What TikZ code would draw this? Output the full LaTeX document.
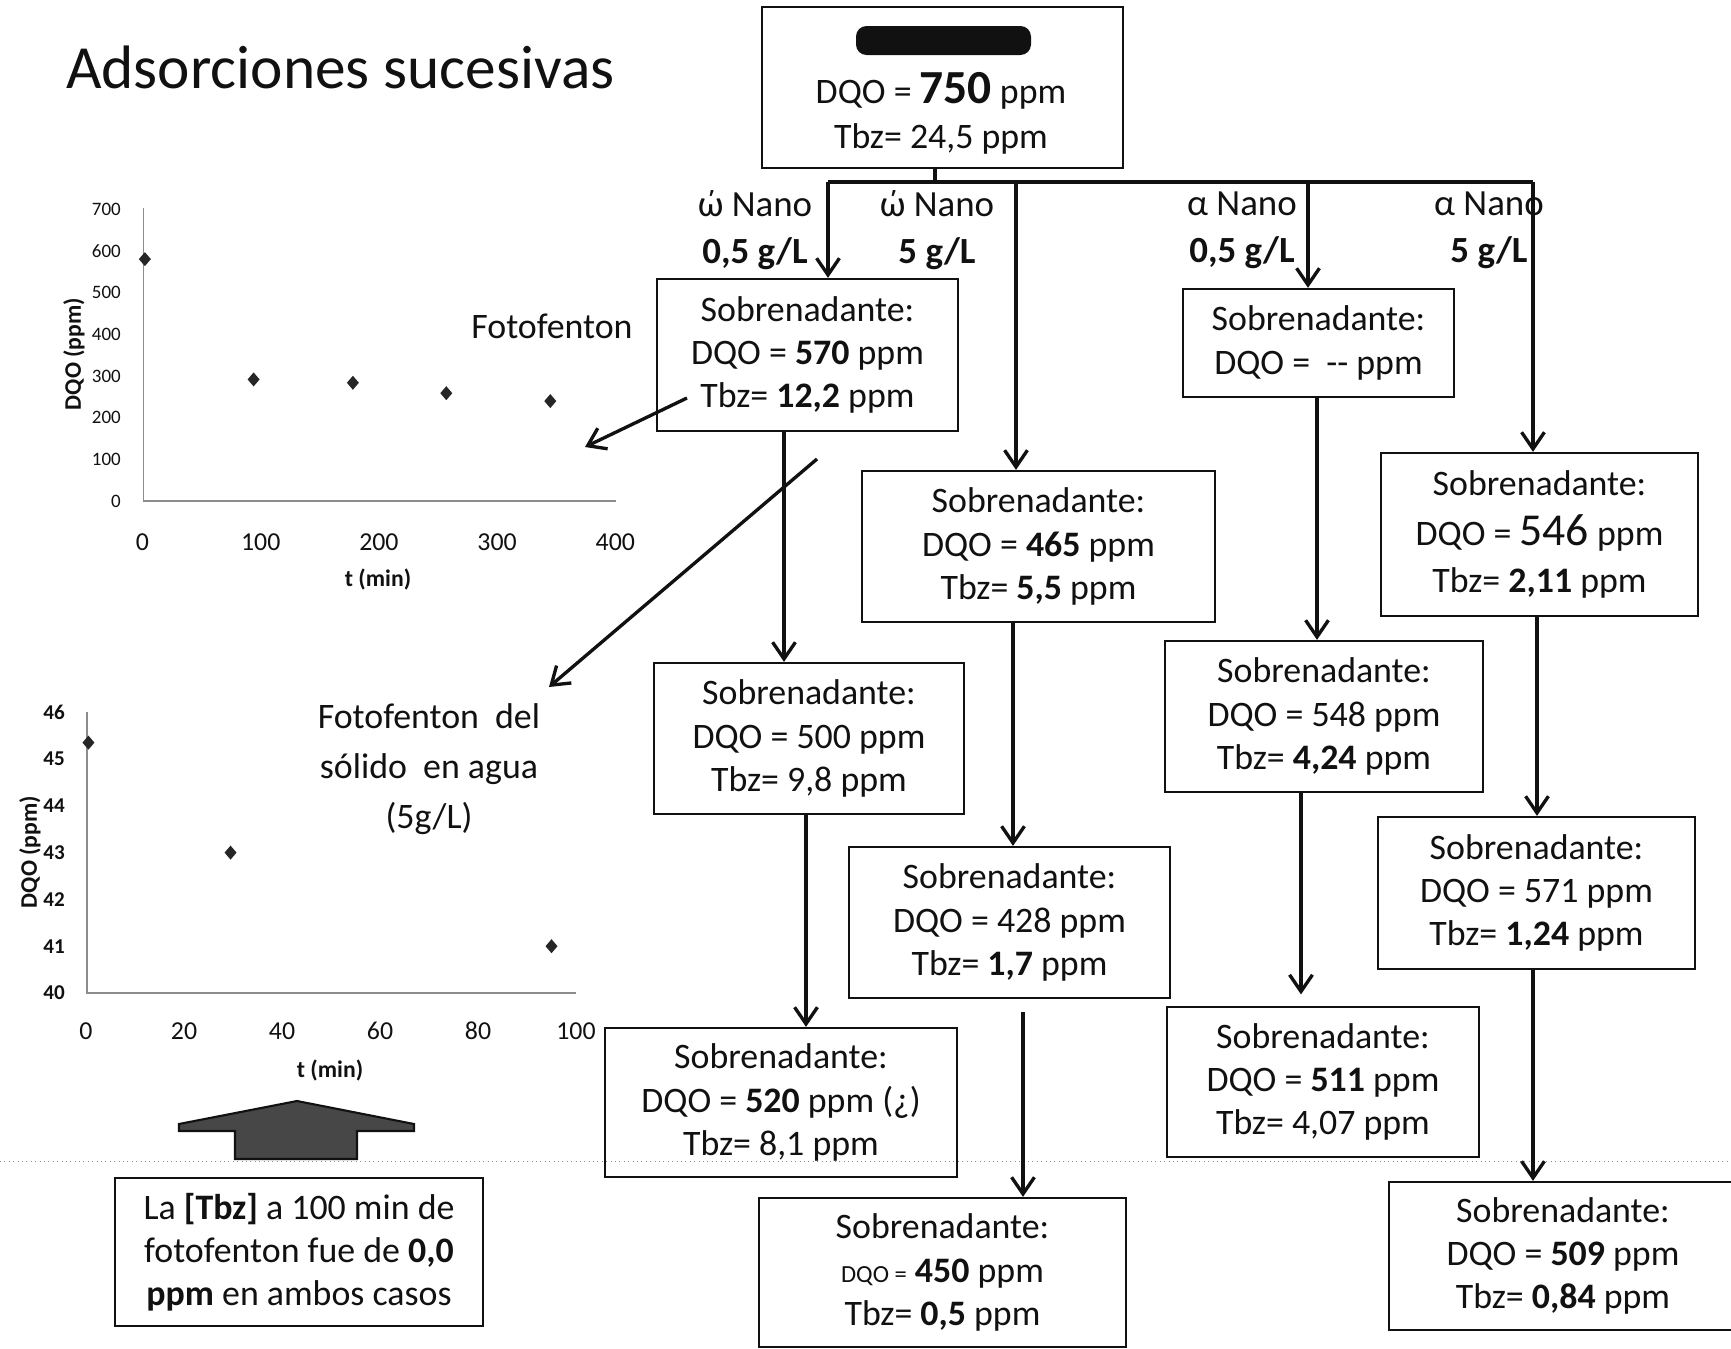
\documentclass[tikz,border=0pt]{standalone}
\usepackage{fontspec}
\setmainfont{Carlito}
\usetikzlibrary{arrows.meta}
\definecolor{Ink}{HTML}{111111}
\definecolor{Axis}{HTML}{8C8C8C}
\definecolor{Marker}{HTML}{262626}
\definecolor{Stipple}{HTML}{474747}
\newcommand\boxfont{\fontsize{20.4}{24.6}\selectfont}

\begin{document}
\begin{tikzpicture}[x=0.2mm,y=-0.2mm,>={Straight Barb[length=9.5pt,width=13pt]},font=\boxfont,every node/.style={text=Ink},
  sbox/.style 2 args={draw=Ink,line width=1.3pt,align=center,inner sep=0pt,minimum width=#1*0.2mm,minimum height=#2*0.2mm},
  flow/.style={draw=Ink,line width=1.9pt,->},
  lab/.style={align=center,font=\fontsize{21}{26.5}\selectfont},
  yt/.style={anchor=east,font=\fontsize{10.8}{12}\selectfont},
  yt2/.style={anchor=east,font=\fontsize{12}{13}\selectfont\bfseries},
  xt/.style={font=\fontsize{14.7}{16}\selectfont},
  axlab/.style={font=\fontsize{13.5}{15}\selectfont\bfseries}]
\fill[white] (0,0) rectangle (1731,1348);\useasboundingbox (0,0) rectangle (1731,1348);
\draw[Axis,dotted,line width=0.5pt] (0,1161)--(1731,1161);
\node[anchor=base west,font=\fontsize{34.9}{40}\selectfont] (title) at (60,88) {Adsorciones sucesivas};
% charts
\draw[Axis,line width=0.7pt] (143.5,207.5)--(143.5,501)--(616,501);
\foreach \v in {0,100,...,700} \node[yt] (fy\v) at (127,{501-0.4163*\v}) {\v};
\foreach \v in {0,100,...,400} \node[xt] (fx\v) at ({142.5+1.182*\v},541.7) {\v};
\foreach \t/\q in {2/581,94/292,178/284,257/259,345/240} \fill[Marker] ({142.5+1.182*\t},{501-0.4163*\q}) +(0,-7)--+(6,0)--+(0,7)--+(-6,0)--cycle;
\node[axlab,rotate=90] (fdqo) at (74,354) {DQO (ppm)};\node[axlab] (ft) at (378,579) {t (min)};
\node (foto) at (552,326) {Fotofenton};
\draw[Axis,line width=0.7pt] (87,712)--(87,993)--(576,993);
\foreach \v in {40,...,46} \node[yt2] (sy\v) at (71,{993-46.8*(\v-40)}) {\v};
\foreach \v in {0,20,...,100} \node[xt] (sx\v) at ({86+4.9*\v},1031) {\v};
\foreach \t/\q in {0.5/45.35,29.5/43,95/41} \fill[Marker] ({86+4.9*\t},{993-46.8*(\q-40)}) +(0,-7)--+(6,0)--+(0,7)--+(-6,0)--cycle;
\node[axlab,rotate=90] (sdqo) at (30,852) {DQO (ppm)};\node[axlab] (st) at (330,1070) {t (min)};
\node[align=center,font=\fontsize{20.4}{28.5}\selectfont] (solido) at (429,769) {Fotofenton\ \ del\\sólido\ \ en agua\\(5g/L)};
\filldraw[fill=Stipple,draw=Ink,line width=1.2pt] (297,1101)--(414,1124)--(414,1131)--(357,1131)--(357,1159)--(235,1159)--(235,1131)--(179,1131)--(179,1124)--cycle;
\node[sbox={368}{148}] (note) at (299,1252) {La \textbf{[Tbz]} a 100 min de\\fotofenton fue de \textbf{0,0}\\\textbf{ppm} en ambos casos};
% tree
\node[sbox={361}{161}] (src) at (942.5,87.5) {};
\fill[Ink,rounded corners=6pt] (856,26) rectangle (1031,55);
\node[anchor=base] (srcdqo) at (941,103) {DQO = {\fontsize{27}{30}\selectfont\bfseries 750} ppm};
\node[anchor=base] (srctbz) at (941,148) {Tbz= 24,5 ppm};
\node[sbox={301}{152}] (b570) at (807.5,355) {Sobrenadante:\\DQO = \textbf{570} ppm\\Tbz= \textbf{12,2} ppm};
\node[sbox={353}{151}] (b465) at (1038.5,546.5) {Sobrenadante:\\DQO = \textbf{465} ppm\\Tbz= \textbf{5,5} ppm};
\node[sbox={271}{108}] (bnone) at (1318.5,343) {Sobrenadante:\\DQO =\ \ -{}- ppm};
\node[sbox={317}{163}] (b546) at (1539.5,534.5) {Sobrenadante:\\[4pt]DQO = {\fontsize{26}{26}\selectfont 546} ppm\\[2pt]Tbz= \textbf{2,11} ppm};
\node[sbox={310}{151}] (b500) at (809,738.5) {Sobrenadante:\\DQO = 500 ppm\\Tbz= 9,8 ppm};
\node[sbox={318}{151}] (b548) at (1324,716.5) {Sobrenadante:\\DQO = 548 ppm\\Tbz= \textbf{4,24} ppm};
\node[sbox={321}{151}] (b428) at (1009.5,922.5) {Sobrenadante:\\DQO = 428 ppm\\Tbz= \textbf{1,7} ppm};
\node[sbox={317}{152}] (b571) at (1536.5,893) {Sobrenadante:\\DQO = 571 ppm\\Tbz= \textbf{1,24} ppm};
\node[sbox={352}{149}] (b520) at (781,1102.5) {Sobrenadante:\\DQO = \textbf{520} ppm (¿)\\Tbz= 8,1 ppm};
\node[sbox={367}{149}] (b450) at (942.5,1272.5) {Sobrenadante:\\{\fontsize{14}{14}\selectfont DQO =} \textbf{450} ppm\\Tbz= \textbf{0,5} ppm};
\node[sbox={312}{150}] (b511) at (1323,1082) {Sobrenadante:\\DQO = \textbf{511} ppm\\Tbz= 4,07 ppm};
\node[sbox={348}{148}] (b509) at (1563,1256) {Sobrenadante:\\DQO = \textbf{509} ppm\\Tbz= \textbf{0,84} ppm};
\node[lab] (l1) at (755,230) {ώ Nano\\\textbf{0,5 g/L}};\node[lab] (l2) at (937,230) {ώ Nano\\\textbf{5 g/L}};
\node[lab] (l3) at (1242,230) {α Nano\\\textbf{0,5 g/L}};\node[lab] (l4) at (1489,230) {α Nano\\\textbf{5 g/L}};
\coordinate (stub) at (935,182);\coordinate (bus1) at (828,182);\coordinate (bus2) at (1016,182);\coordinate (bus3) at (1308,182);\coordinate (bus4) at (1533,182);
\draw[Ink,line width=2.3pt] (src.south -| stub)--(stub);\draw[Ink,line width=2.3pt] (bus1)--(bus4);
\draw[flow] (bus1)--(bus1 |- b570.north);\draw[flow] (bus2)--(bus2 |- b465.north);
\draw[flow] (bus3)--(bus3 |- bnone.north);\draw[flow] (bus4)--(bus4 |- b546.north);
\coordinate (a1) at (784,0);\coordinate (a2) at (1013,0);\coordinate (a3) at (806,0);\coordinate (a4) at (1023,1012);
\coordinate (a5) at (1317,0);\coordinate (a6) at (1301,0);\coordinate (a7) at (1537,0);\coordinate (a8) at (1533,0);
\draw[flow] (b570.south -| a1)--(b500.north -| a1);\draw[flow] (b465.south -| a2)--(b428.north -| a2);
\draw[flow] (b500.south -| a3)--(b520.north -| a3);\draw[flow] (a4)--(a4 |- b450.north);
\draw[flow] (bnone.south -| a5)--(b548.north -| a5);\draw[flow,shorten >=6.5pt] (b548.south -| a6)--(b511.north -| a6);
\draw[flow] (b546.south -| a7)--(b571.north -| a7);\draw[flow] (b571.south -| a8)--(b509.north -| a8);
\coordinate (d1s) at (687,398);\coordinate (d1e) at (585,447);\coordinate (d2s) at (817,459);\coordinate (d2e) at (549,687);
\draw[flow] (d1s)--(d1e);\draw[flow] (d2s)--(d2e);
\end{tikzpicture}
\end{document}
